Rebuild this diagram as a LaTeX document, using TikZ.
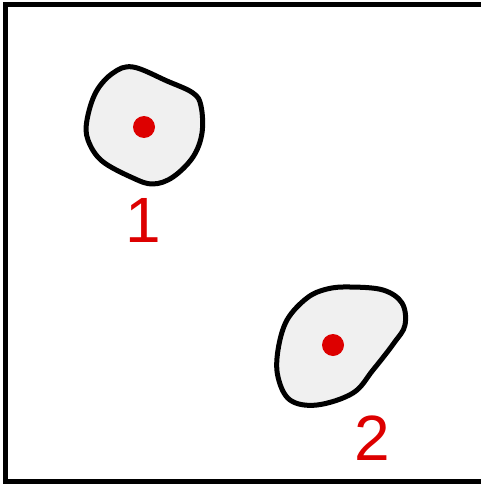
\documentclass[tikz,border=0pt]{standalone}
\usepackage{fontspec}
\setmainfont{Liberation Sans}
\definecolor{blobfill}{HTML}{F0F0F0}
\definecolor{dotred}{HTML}{DD0000}
\begin{document}
\begin{tikzpicture}[x=1pt,y=-1pt,
  blob/.style={draw=black,line width=5pt,fill=blobfill,line join=round},
  reddot/.style={circle,fill=dotred,minimum size=22pt,inner sep=0pt},
  num/.style={text=dotred,font=\fontsize{64}{64}\selectfont,inner sep=0pt}]
\useasboundingbox (0,0) rectangle (481,484);
\fill[white] (0,0) rectangle (481,484);
\draw[line width=5pt] (481,4.5) -- (5.5,4.5) -- (5.5,481.5) -- (481,481.5);
% blob 1
\draw[blob] plot[smooth cycle,tension=0.6] coordinates {
 (133,67) (167,81) (193,93) (201,106) (202,133) (193,157) (173,177) (153,184)
 (133,178) (102,161) (88,140) (87,120) (96,92) (113,73)};
\node[reddot] (d1) at (144,127) {};
\node[num] (l1) at (143,220) {1};
% blob 2
\draw[blob] plot[smooth cycle,tension=0.6] coordinates {
 (350,287) (383,290) (402,303) (405,325) (394,343) (373,370) (353,393) (317,405)
 (290,400) (278,377) (278,350) (287,320) (307,298) (327,289)};
\node[reddot] (d2) at (333,345) {};
\node[num] (l2) at (372,438) {2};
\end{tikzpicture}
\end{document}
